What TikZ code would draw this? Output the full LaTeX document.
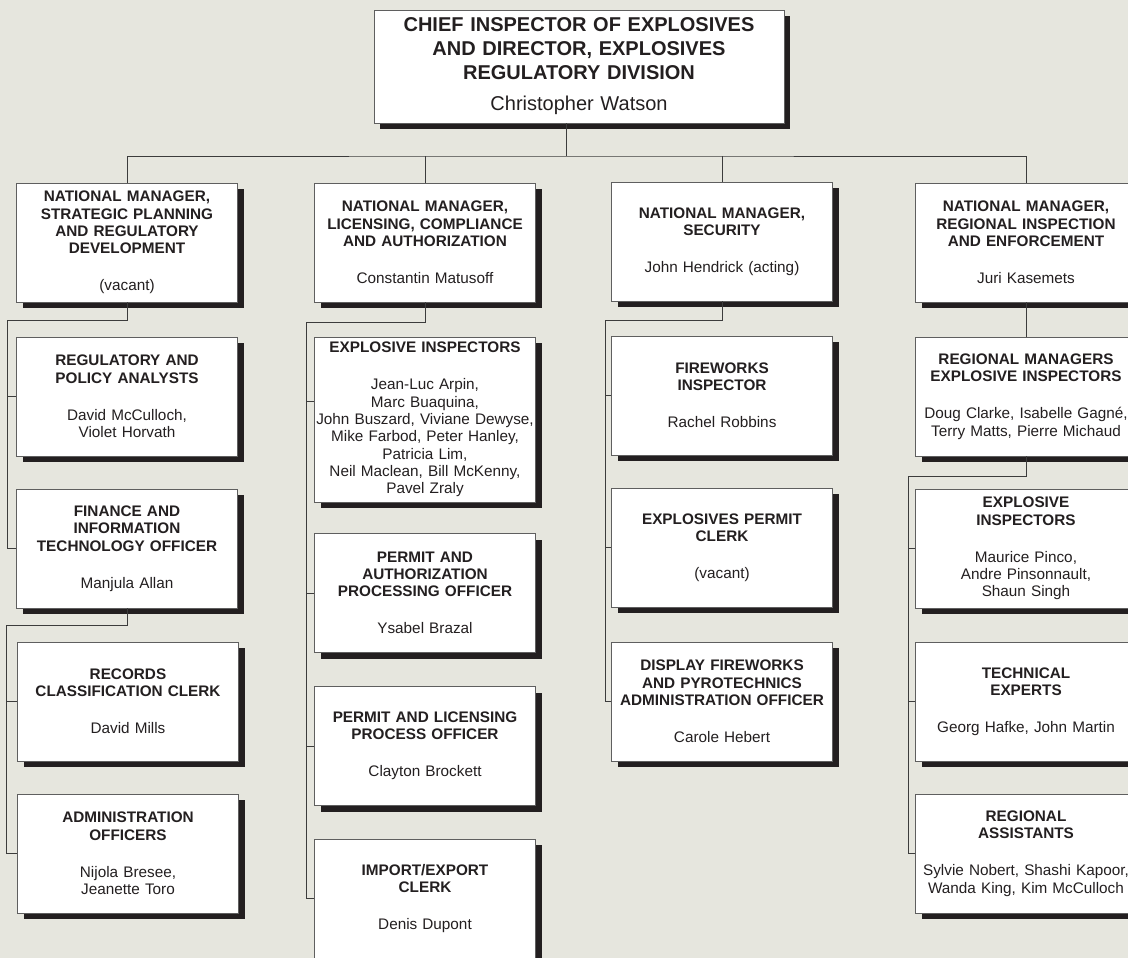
\documentclass[tikz,border=0pt]{standalone}
\usepackage{fontspec}
\setmainfont{Liberation Sans}
\usetikzlibrary{shadows,calc}
\definecolor{PageTint}{RGB}{230,230,222}
\definecolor{InkDark}{RGB}{35,31,32}
\definecolor{RuleGray}{RGB}{60,60,60}
\definecolor{FrameGray}{RGB}{95,95,95}

\newcommand{\posttext}[2]{\textbf{#1}\\[19.7pt]#2}

\begin{document}
\begin{tikzpicture}[x=1pt,y=-1pt,
    post/.style={draw=FrameGray, fill=white, line width=0.8pt, text=InkDark, align=center,
      text width=221pt, minimum width=221pt, minimum height=119pt, inner xsep=0pt, inner ysep=2pt,
      font=\fontsize{15.3}{17.3}\selectfont,
      drop shadow={shadow xshift=6pt, shadow yshift=-6pt, fill=InkDark, opacity=1}},
    link/.style={draw=RuleGray, line width=0.9pt}]
        \useasboundingbox (0,0) rectangle (1128,958);
        \clip (0,0) rectangle (1128,958);
        \fill[PageTint] (0,0) rectangle (1128,958);

        \node[post, text width=410pt, minimum width=410pt, minimum height=113pt, font=\fontsize{20}{24}\selectfont] (chief) at (579,66.5)
          {\textbf{CHIEF INSPECTOR OF EXPLOSIVES\\ AND DIRECTOR, EXPLOSIVES\\ REGULATORY DIVISION}\\[7pt]Christopher Watson};

        % strategic planning
        \node[post] (planning) at (127,242.5) {\posttext{NATIONAL MANAGER,\\ STRATEGIC PLANNING\\ AND REGULATORY\\ DEVELOPMENT}{(vacant)}};
        \node[post] (analysts) at (127,396.5) {\posttext{REGULATORY AND\\ POLICY ANALYSTS}{David McCulloch,\\ Violet Horvath}};
        \node[post] (finance) at (127,548.5) {\posttext{FINANCE AND\\ INFORMATION\\ TECHNOLOGY OFFICER}{Manjula Allan}};
        \node[post] (records) at (128,701.5) {\posttext{RECORDS\\ CLASSIFICATION CLERK}{David Mills}};
        \node[post] (admin) at (128,853.5) {\posttext{ADMINISTRATION\\ OFFICERS}{Nijola Bresee,\\ Jeanette Toro}};

        % licensing
        \node[post] (licensing) at (425,242.5) {\posttext{NATIONAL MANAGER,\\ LICENSING, COMPLIANCE\\ AND AUTHORIZATION}{Constantin Matusoff}};
        \node[post, minimum height=165pt] (inspectors) at (425,419.5) {\posttext{EXPLOSIVE INSPECTORS}{Jean-Luc Arpin,\\ Marc Buaquina,\\ John Buszard, Viviane Dewyse,\\ Mike Farbod, Peter Hanley,\\ Patricia Lim,\\ Neil Maclean, Bill McKenny,\\ Pavel Zraly}};
        \node[post] (authorization) at (425,593) {\posttext{PERMIT AND\\ AUTHORIZATION\\ PROCESSING OFFICER}{Ysabel Brazal}};
        \node[post] (licprocess) at (425,746) {\posttext{PERMIT AND LICENSING\\ PROCESS OFFICER}{Clayton Brockett}};
        \node[post] (importexport) at (425,898.5) {\posttext{IMPORT/EXPORT\\ CLERK}{Denis Dupont}};

        % security
        \node[post] (security) at (722,241.5) {\posttext{NATIONAL MANAGER,\\ SECURITY}{John Hendrick (acting)}};
        \node[post] (fireworks) at (722,395.5) {\posttext{FIREWORKS\\ INSPECTOR}{Rachel Robbins}};
        \node[post] (permitclerk) at (722,547.5) {\posttext{EXPLOSIVES PERMIT\\ CLERK}{(vacant)}};
        \node[post] (display) at (722,701.5) {\posttext{DISPLAY FIREWORKS\\ AND PYROTECHNICS\\ ADMINISTRATION OFFICER}{Carole Hebert}};

        % regional enforcement
        \node[post] (enforcement) at (1026,242.5) {\posttext{NATIONAL MANAGER,\\ REGIONAL INSPECTION\\ AND ENFORCEMENT}{Juri Kasemets}};
        \node[post] (regional) at (1026,396.5) {\posttext{REGIONAL MANAGERS\\ EXPLOSIVE INSPECTORS}{Doug Clarke, Isabelle Gagné,\\ Terry Matts, Pierre Michaud}};
        \node[post] (explinsp) at (1026,548.5) {\posttext{EXPLOSIVE\\ INSPECTORS}{Maurice Pinco,\\ Andre Pinsonnault,\\ Shaun Singh}};
        \node[post] (technical) at (1026,701.5) {\posttext{TECHNICAL\\ EXPERTS}{Georg Hafke, John Martin}};
        \node[post] (assistants) at (1026,853.5) {\posttext{REGIONAL\\ ASSISTANTS}{Sylvie Nobert, Shashi Kapoor,\\ Wanda King, Kim McCulloch}};

        \coordinate (bus) at (566,156);
        \draw[link] ([xshift=-13pt]chief.south) -- (bus);
        \draw[link] (planning.north) |- (bus) -| (enforcement.north);
        \draw[link] (licensing.north) -- (licensing.north |- bus);
        \draw[link] (security.north) -- (security.north |- bus);

        \coordinate (spineA) at (7,320);
        \coordinate (spineB) at (6,625);
        \coordinate (spineC) at (306,322);
        \coordinate (spineD) at (605,320);
        \coordinate (spineE) at (908,476);
        \coordinate (inspectorsjoin) at ([yshift=18.5pt]inspectors.west);
        \draw[link] (planning.south) |- (spineA) |- (finance.west);
        \draw[link] (finance.south) |- (spineB) |- (admin.west);
        \draw[link] (licensing.south) |- (spineC) |- (importexport.west);
        \draw[link] (security.south) |- (spineD) |- (display.west);
        \draw[link] (enforcement.south) -- (regional.north);
        \draw[link] (regional.south) |- (spineE) |- (assistants.west);
        \draw[link] (inspectorsjoin) -- (inspectorsjoin -| spineC);
        \foreach \n/\s in {analysts/spineA, records/spineB, authorization/spineC, licprocess/spineC,
            fireworks/spineD, permitclerk/spineD, explinsp/spineE, technical/spineE}
          \draw[link] (\n.west) -- (\n.west -| \s);
      \end{tikzpicture}
\end{document}
